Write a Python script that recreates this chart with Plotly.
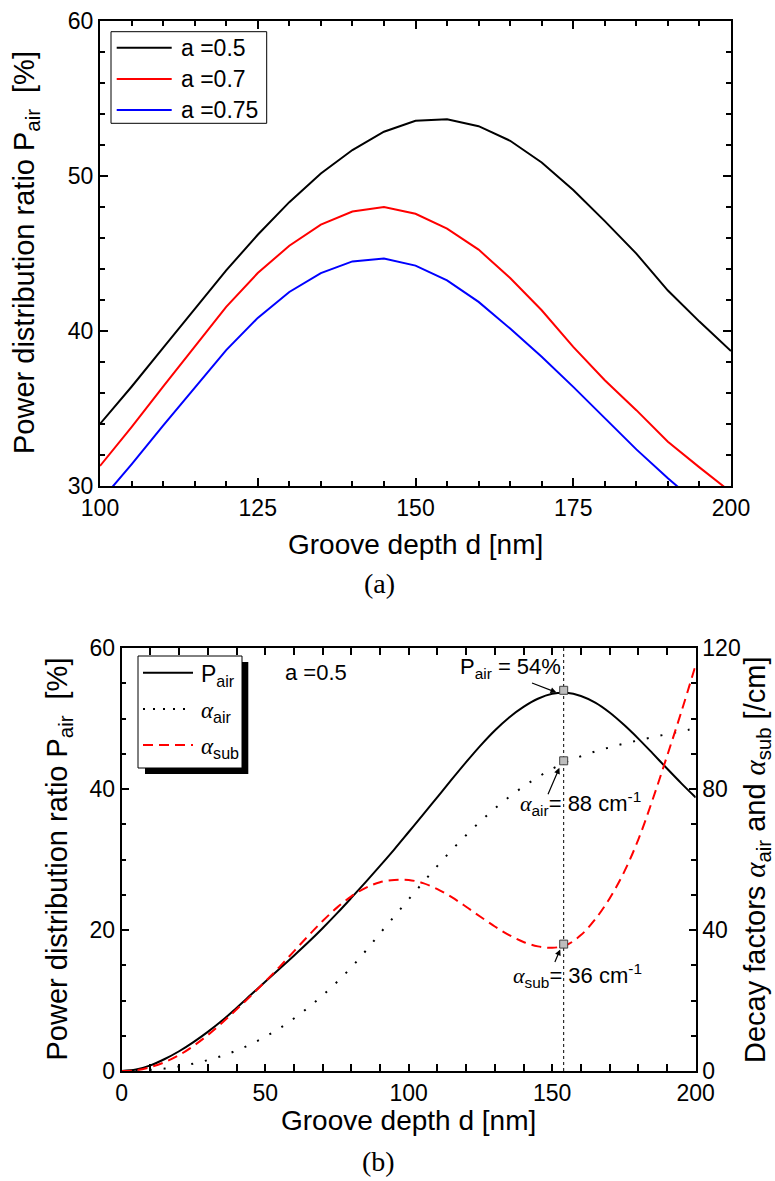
import plotly.graph_objects as go

W, H = 775, 1181

# ---- panel (a): power fraction in air vs groove depth, three fill factors ----
depth_a = list(range(100, 201, 5))
p_air_a05 = [34.0, 36.4, 38.9, 41.4, 43.9, 46.2, 48.3, 50.15, 51.66, 52.84, 53.55,
             53.64, 53.2, 52.26, 50.86, 49.08, 47.08, 44.98, 42.6, 40.6, 38.7]
p_air_a07 = [31.29, 33.8, 36.4, 39.0, 41.55, 43.73, 45.49, 46.85, 47.70, 47.98, 47.55,
             46.59, 45.24, 43.41, 41.33, 38.97, 36.82, 34.89, 32.85, 31.2, 29.6]
p_air_a075 = [29.0, 31.4, 33.9, 36.35, 38.76, 40.84, 42.51, 43.73, 44.48, 44.66, 44.21,
              43.26, 41.87, 40.15, 38.33, 36.39, 34.36, 32.36, 30.5, 28.7, 27.0]
labels_a = ["a =0.5", "a =0.7", "a =0.75"]
colors_a = ["#000000", "#ff0000", "#0000ff"]

# ---- panel (b): a = 0.5, power fraction and decay factors ----
depth_b = list(range(0, 201, 5))
p_air_b = [0, 0.2, 0.8, 1.7, 2.8, 4.1, 5.55, 7.15, 8.95, 10.8, 12.65, 14.5, 16.35,
           18.25, 20.25, 22.35, 24.55, 26.8, 29.1, 31.45, 33.9, 36.35, 38.85, 41.35,
           43.8, 46.15, 48.3, 50.15, 51.65, 52.8, 53.5, 53.65, 53.2, 52.25, 50.85,
           49.1, 47.15, 45.05, 42.9, 40.8, 38.8]
alpha_air_b = [0, 0.1, 0.3, 0.7, 1.3, 2.1, 3.1, 4.3, 5.8, 7.6, 9.7, 12.1, 14.9, 18.0,
               21.45, 25.25, 29.4, 34.05, 39.05, 43.9, 48.7, 53.5, 58.2, 62.7, 66.9,
               70.85, 74.45, 77.75, 80.7, 83.35, 85.7, 87.7, 89.3, 90.65, 91.8, 92.85,
               93.8, 94.7, 95.55, 96.4, 97.2]
alpha_sub_b = [0, 0.2, 1.1, 2.5, 4.5, 7.1, 10.2, 13.7, 17.45, 21.35, 25.35, 29.55,
               33.95, 38.35, 42.55, 46.35, 49.55, 51.95, 53.55, 54.2, 54.2, 53.3, 51.6,
               49.3, 46.6, 43.75, 41.0, 38.55, 36.6, 35.35, 34.95, 35.75, 38.55, 43.05,
               48.95, 56.35, 65.65, 77.0, 89.3, 101.9, 115.2]

# operating point marked in panel (b)
d_opt = 154
p_air_opt = 54
alpha_air_opt = 88
alpha_sub_opt = 36

SANS = "Liberation Sans, Arial, sans-serif"
SERIF = "Liberation Serif, Times New Roman, serif"
ALPHA = '<span style="font-family:Liberation Serif;font-style:italic">α</span>'


def px(x):
    return x / W


def py(y):
    return 1 - y / H


fig = go.Figure()

for vals, col in zip([p_air_a05, p_air_a07, p_air_a075], colors_a):
    fig.add_trace(go.Scatter(x=depth_a, y=vals, mode="lines",
                             line=dict(color=col, width=2),
                             xaxis="x", yaxis="y", showlegend=False))

fig.add_trace(go.Scatter(x=depth_b, y=p_air_b, mode="lines",
                         line=dict(color="black", width=2, shape="spline"),
                         xaxis="x2", yaxis="y2", showlegend=False))
fig.add_trace(go.Scatter(x=depth_b, y=alpha_air_b, mode="lines",
                         line=dict(color="black", width=2, dash="2px,12px",
                                   shape="spline"),
                         xaxis="x2", yaxis="y3", showlegend=False))
fig.add_trace(go.Scatter(x=depth_b, y=alpha_sub_b, mode="lines",
                         line=dict(color="#ff0000", width=2, dash="10px,6px",
                                   shape="spline"),
                         xaxis="x2", yaxis="y3", showlegend=False))

marker_style = dict(symbol="square", size=8, color="#bdbdbd",
                    line=dict(color="#404040", width=1))
fig.add_trace(go.Scatter(x=[d_opt], y=[p_air_opt], mode="markers",
                         marker=marker_style, xaxis="x2", yaxis="y2",
                         showlegend=False, cliponaxis=False))
fig.add_trace(go.Scatter(x=[d_opt, d_opt], y=[alpha_air_opt, alpha_sub_opt],
                         mode="markers", marker=marker_style,
                         xaxis="x2", yaxis="y3", showlegend=False))

axis_common = dict(showline=True, linewidth=2, linecolor="black", ticks="inside",
                   tickcolor="black", tickwidth=2, showgrid=False, zeroline=False,
                   tickfont=dict(family=SANS, size=23, color="black"),
                   automargin=False, fixedrange=True)

shapes = []
annotations = []

# vertical guide through the operating point
shapes.append(dict(type="line", xref="x2", x0=d_opt, x1=d_opt,
                   yref="y2 domain", y0=0, y1=1,
                   line=dict(color="black", width=1, dash="dot"), layer="below"))

# legend of panel (a)
shapes.append(dict(type="rect", xref="paper", yref="paper",
                   x0=px(111), x1=px(266.7), y0=py(123.3), y1=py(31.7),
                   line=dict(color="black", width=1), fillcolor="white", layer="above"))
for i, (lab, col) in enumerate(zip(labels_a, colors_a)):
    yy = 47.7 + 31.2 * i
    shapes.append(dict(type="line", xref="paper", yref="paper",
                       x0=px(116.7), x1=px(171.7), y0=py(yy), y1=py(yy),
                       line=dict(color=col, width=2), layer="above"))
    annotations.append(dict(text=lab, xref="paper", yref="paper", x=px(179),
                            y=py(yy), xanchor="left", yanchor="middle",
                            showarrow=False,
                            font=dict(family=SANS, size=23, color="black")))

# legend of panel (b) with drop shadow
shapes.append(dict(type="rect", xref="paper", yref="paper",
                   x0=px(145), x1=px(248.3), y0=py(774), y1=py(662),
                   line=dict(width=0), fillcolor="black", layer="above"))
shapes.append(dict(type="rect", xref="paper", yref="paper",
                   x0=px(138), x1=px(242), y0=py(768), y1=py(656),
                   line=dict(color="black", width=1), fillcolor="white", layer="above"))
legend_b = [("P<sub>air</sub>", dict(color="black", width=2)),
            (ALPHA + "<sub>air</sub>", dict(color="black", width=2, dash="2px,8px")),
            (ALPHA + "<sub>sub</sub>", dict(color="#ff0000", width=2, dash="10px,6px"))]
for i, (lab, ln) in enumerate(legend_b):
    yy = 672.7 + 36.2 * i
    shapes.append(dict(type="line", xref="paper", yref="paper",
                       x0=px(143), x1=px(193), y0=py(yy), y1=py(yy),
                       line=ln, layer="above"))
    annotations.append(dict(text=lab, xref="paper", yref="paper", x=px(199),
                            y=py(yy + 3), xanchor="left", yanchor="middle",
                            showarrow=False,
                            font=dict(family=SANS, size=23, color="black")))

annotations.append(dict(text="a =0.5", xref="paper", yref="paper", x=px(316),
                        y=py(672), xanchor="center", yanchor="middle",
                        showarrow=False, font=dict(family=SANS, size=22, color="black")))

# operating point labels and arrows
annotations += [
    dict(text=f"P<sub>air</sub> = {p_air_opt}%", xref="paper", yref="paper",
         x=px(510), y=py(668), xanchor="center", yanchor="middle", showarrow=False,
         font=dict(family=SANS, size=22, color="black")),
    dict(text="", xref="x2", yref="y2", x=d_opt - 2.5, y=p_air_opt - 0.3,
         axref="pixel", ayref="pixel", ax=-26, ay=-10, showarrow=True,
         arrowhead=2, arrowsize=1, arrowwidth=1.2, arrowcolor="black"),
    dict(text=f"{ALPHA}<sub>air</sub>= {alpha_air_opt} cm<sup>-1</sup>",
         xref="paper", yref="paper", x=px(580), y=py(803), xanchor="center",
         yanchor="middle", showarrow=False,
         font=dict(family=SANS, size=22, color="black")),
    dict(text="", xref="x2", yref="y3", x=d_opt - 1.5, y=alpha_air_opt - 2,
         axref="pixel", ayref="pixel", ax=-12, ay=28, showarrow=True,
         arrowhead=2, arrowsize=1, arrowwidth=1.2, arrowcolor="black"),
    dict(text=f"{ALPHA}<sub>sub</sub>= {alpha_sub_opt} cm<sup>-1</sup>",
         xref="paper", yref="paper", x=px(577), y=py(975), xanchor="center",
         yanchor="middle", showarrow=False,
         font=dict(family=SANS, size=22, color="black")),
    dict(text="", xref="x2", yref="y3", x=d_opt - 1.2, y=alpha_sub_opt - 1.5,
         axref="pixel", ayref="pixel", ax=-6, ay=14, showarrow=True,
         arrowhead=2, arrowsize=1, arrowwidth=1.2, arrowcolor="black"),
]

# axis titles and panel tags
title_font = dict(family=SANS, size=29, color="black")
annotations += [
    dict(text="Power distribution ratio P<sub>air</sub>  [%]", xref="paper",
         yref="paper", x=px(26), y=py(253), textangle=-90, showarrow=False,
         xanchor="center", yanchor="middle", font=title_font),
    dict(text="Groove depth d [nm]", xref="paper", yref="paper", x=px(415.5),
         y=py(544), showarrow=False, xanchor="center", yanchor="middle",
         font=dict(family=SANS, size=28, color="black")),
    dict(text="(a)", xref="paper", yref="paper", x=px(379), y=py(583),
         showarrow=False, xanchor="center", yanchor="middle",
         font=dict(family=SERIF, size=28, color="black")),
    dict(text="Power distribution ratio P<sub>air</sub>  [%]", xref="paper",
         yref="paper", x=px(58), y=py(859.5), textangle=-90, showarrow=False,
         xanchor="center", yanchor="middle", font=title_font),
    dict(text=f"Decay factors {ALPHA}<sub>air</sub> and {ALPHA}<sub>sub</sub> [/cm]",
         xref="paper", yref="paper", x=px(757), y=py(860), textangle=-90,
         showarrow=False, xanchor="center", yanchor="middle", font=title_font),
    dict(text="Groove depth d [nm]", xref="paper", yref="paper", x=px(408.7),
         y=py(1120), showarrow=False, xanchor="center", yanchor="middle",
         font=dict(family=SANS, size=28, color="black")),
    dict(text="(b)", xref="paper", yref="paper", x=px(378), y=py(1161),
         showarrow=False, xanchor="center", yanchor="middle",
         font=dict(family=SERIF, size=28, color="black")),
]

fig.update_layout(
    width=W, height=H,
    margin=dict(l=0, r=0, t=0, b=0),
    paper_bgcolor="white", plot_bgcolor="white",
    showlegend=False,
    xaxis=dict(axis_common, domain=[px(100), px(731)], anchor="y",
               range=[100, 200], tick0=100, dtick=25, ticklen=8, mirror="allticks",
               minor=dict(ticks="inside", ticklen=5, dtick=5, tickcolor="black",
                          tickwidth=1.5)),
    yaxis=dict(axis_common, domain=[py(486), py(20.7)], anchor="x",
               range=[30, 60], tick0=30, dtick=10, ticklen=8, mirror="allticks",
               minor=dict(ticks="inside", ticklen=5, dtick=2, tickcolor="black",
                          tickwidth=1.5)),
    xaxis2=dict(axis_common, domain=[px(121.7), px(695.7)], anchor="y2",
                range=[0, 200], tick0=0, dtick=50, ticklen=7, mirror="allticks",
                minor=dict(ticks="inside", ticklen=4.5, dtick=10, tickcolor="black",
                           tickwidth=1.5)),
    yaxis2=dict(axis_common, domain=[py(1071), py(648)], anchor="x2",
                range=[0, 60], tick0=0, dtick=20, ticklen=7,
                minor=dict(ticks="inside", ticklen=4.5, dtick=5, tickcolor="black",
                           tickwidth=1.5)),
    yaxis3=dict(axis_common, overlaying="y2", side="right", anchor="x2",
                range=[0, 120], tick0=0, dtick=40, ticklen=7,
                minor=dict(ticks="inside", ticklen=4.5, dtick=10, tickcolor="black",
                           tickwidth=1.5)),
    shapes=shapes,
    annotations=annotations,
)

fig.write_html("out.html")
